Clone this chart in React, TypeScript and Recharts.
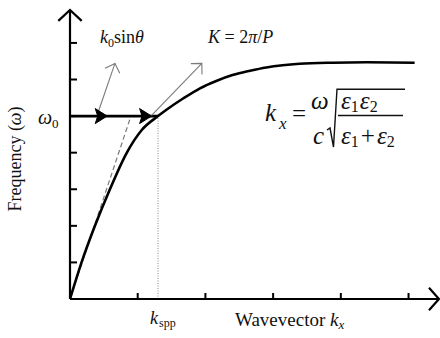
import {
  ComposedChart,
  Line,
  XAxis,
  YAxis,
  ReferenceLine,
  ReferenceDot,
  Customized,
} from "recharts";

// SPP dispersion curve (wavevector in tick units, frequency in tick units)
const KX = [0, 0.167, 0.364, 0.585, 0.836, 1.06, 1.3, 1.43, 1.67, 1.92, 2.16, 2.4, 2.66, 2.9, 3.14, 3.39, 3.88, 4.38, 5.09];
const OMEGA = [0, 0.98, 1.98, 2.98, 3.99, 4.62, 5.0, 5.18, 5.48, 5.76, 5.96, 6.12, 6.24, 6.33, 6.39, 6.43, 6.46, 6.47, 6.46];

const X_TICKS = [1, 2, 3, 4, 5];
const Y_TICKS = [1, 2, 3, 4, 5, 6, 7];
const X_MAX = 5.45;
const Y_MAX = 7.9;

const OMEGA_0 = 5;
const K_SPP = 1.3;
// light line (dashed) end point
const LIGHT_END = { x: 0.9, y: 5 };
// photon momentum arrows: k0 sin(theta) and grating K
const K0_ARROW = [{ x: 0.418, y: 5.12 }, { x: 0.664, y: 6.44 }];
const GRATING_ARROW = [{ x: 1.195, y: 5.0 }, { x: 1.947, y: 6.44 }];
// filled arrowheads on the omega_0 line
const HEAD_POSITIONS = [0.55, 1.205];

const data = KX.map((k, i) => ({ kx: k, omega: OMEGA[i] }));

const FONT = "'Liberation Serif', serif";
const GRAY = "#7a7a7a";
const X_TICK_LEN = 6;
const Y_TICK_LEN = 7;

function chevron(tx: number, ty: number, ux: number, uy: number, len: number, ang: number) {
  // ux,uy: unit direction of travel; arms point back
  const bx = -ux;
  const by = -uy;
  const c = Math.cos(ang);
  const s = Math.sin(ang);
  const ax = tx + len * (bx * c - by * s);
  const ay = ty + len * (bx * s + by * c);
  const cx = tx + len * (bx * c + by * s);
  const cy = ty + len * (-bx * s + by * c);
  return `M${ax},${ay} L${tx},${ty} L${cx},${cy}`;
}

function arrowShape(color: string, width: number, headLen: number) {
  return (p: any) => {
    const { x1, y1, x2, y2 } = p;
    const dx = x2 - x1;
    const dy = y2 - y1;
    const L = Math.hypot(dx, dy) || 1;
    return (
      <g>
        <line x1={x1} y1={y1} x2={x2} y2={y2} stroke={color} strokeWidth={width} />
        <path
          d={chevron(x2, y2, dx / L, dy / L, headLen, Math.PI / 4)}
          fill="none"
          stroke={color}
          strokeWidth={width}
        />
      </g>
    );
  };
}

const upHead = (p: any) => (
  <path d={chevron(p.cx, p.cy, 0, -1, 16, 0.82)} fill="none" stroke="#000" strokeWidth={2.2} />
);

const rightHead = (p: any) => (
  <path d={chevron(p.cx, p.cy, 1, 0, 15, 0.84)} fill="none" stroke="#000" strokeWidth={2.2} />
);

const solidHead = (p: any) => (
  <path
    d={`M${p.cx},${p.cy} L${p.cx - 12},${p.cy - 7.5} L${p.cx - 9.5},${p.cy} L${p.cx - 12},${p.cy + 7.5} Z`}
    fill="#000"
    stroke="#000"
    strokeWidth={1}
  />
);

// inward tick marks drawn in black (mirror axes, tickMargin 0: label anchor sits at the tick's inner end)
const xTick = (p: any) => (
  <line x1={p.x} y1={p.y} x2={p.x} y2={p.y + X_TICK_LEN} stroke="#000" strokeWidth={2} />
);
const yTick = (p: any) => (
  <line x1={p.x - Y_TICK_LEN} y1={p.y} x2={p.x} y2={p.y} stroke="#000" strokeWidth={2} />
);

function Labels() {
  const t = { fontFamily: FONT, fill: "#111" };
  return (
    <g>
      {/* y label */}
      <text {...t} fontSize={18} textAnchor="middle" transform="translate(21,159) rotate(-90)">
        Frequency (<tspan fontStyle="italic">ω</tspan>)
      </text>
      <text {...t} x={38} y={124} fontSize={20} fontStyle="italic">ω</text>
      <text {...t} x={52} y={128} fontSize={13}>0</text>

      {/* top labels */}
      <text {...t} x={100} y={43} fontSize={18}>
        <tspan fontStyle="italic">k</tspan>
        <tspan fontSize={12} dy={4}>0</tspan>
        <tspan dy={-4}>sin</tspan>
        <tspan fontStyle="italic">θ</tspan>
      </text>
      <text {...t} x={208} y={43} fontSize={18}>
        <tspan fontStyle="italic">K</tspan> = 2<tspan fontStyle="italic">π</tspan>/<tspan fontStyle="italic">P</tspan>
      </text>

      {/* bottom labels */}
      <text {...t} x={150} y={324} fontSize={18} fontStyle="italic">k</text>
      <text {...t} x={159} y={327} fontSize={12}>spp</text>
      <text {...t} x={235} y={326} fontSize={19}>
        Wavevector <tspan fontStyle="italic">k</tspan>
        <tspan fontSize={13} fontStyle="italic" dy={3}>x</tspan>
      </text>

      {/* dispersion relation */}
      <text {...t} x={265} y={121} fontSize={25} fontStyle="italic">k</text>
      <text {...t} x={279} y={129} fontSize={17} fontStyle="italic">x</text>
      <text {...t} x={292} y={122} fontSize={25}>=</text>
      <text {...t} x={311} y={109} fontSize={25} fontStyle="italic">ω</text>
      <text {...t} x={313} y={144} fontSize={25} fontStyle="italic">c</text>
      <path d="M327,130 L330,128 L333.5,147 L337,89.3 L405,89.3" fill="none" stroke="#111" strokeWidth={1.4} />
      <line x1={338} y1={115.5} x2={403} y2={115.5} stroke="#111" strokeWidth={1.3} />
      <text {...t} x={341} y={109} fontSize={25}>
        <tspan fontStyle="italic">ε</tspan>
        <tspan fontSize={16} dy={3}>1</tspan>
        <tspan fontStyle="italic" dy={-3} dx={1}>ε</tspan>
        <tspan fontSize={16} dy={3}>2</tspan>
      </text>
      <text {...t} x={341} y={144} fontSize={25}>
        <tspan fontStyle="italic">ε</tspan>
        <tspan fontSize={16} dy={3}>1</tspan>
        <tspan dy={-3} dx={2}>+</tspan>
        <tspan fontStyle="italic" dx={2}>ε</tspan>
        <tspan fontSize={16} dy={3}>2</tspan>
      </text>
    </g>
  );
}

export default function App() {
  return (
    <div style={{ position: "absolute", left: 0, top: 0, background: "#fff" }}>
      <ComposedChart
        width={440}
        height={338}
        data={data}
        margin={{ top: 10, right: 1, bottom: 39, left: 70 }}
      >
        <XAxis
          type="number"
          dataKey="kx"
          domain={[0, X_MAX]}
          ticks={X_TICKS}
          allowDataOverflow
          mirror
          tick={xTick}
          tickSize={X_TICK_LEN}
          tickMargin={0}
          stroke="#000"
          axisLine={{ stroke: "#000", strokeWidth: 2.2 }}
          tickLine={false}
        />
        <YAxis
          type="number"
          domain={[0, Y_MAX]}
          ticks={Y_TICKS}
          allowDataOverflow
          mirror
          tick={yTick}
          tickSize={Y_TICK_LEN}
          tickMargin={0}
          stroke="#000"
          axisLine={{ stroke: "#000", strokeWidth: 2.2 }}
          tickLine={false}
        />
        <ReferenceLine
          segment={[{ x: K_SPP, y: 0 }, { x: K_SPP, y: OMEGA_0 }]}
          stroke="#888"
          strokeWidth={1}
          strokeDasharray="1 1.5"
        />
        <ReferenceLine
          segment={[{ x: 0, y: 0 }, LIGHT_END]}
          stroke={GRAY}
          strokeWidth={1.2}
          strokeDasharray="5 3"
        />
        <Line
          type="monotone"
          dataKey="omega"
          stroke="#000"
          strokeWidth={2.6}
          dot={false}
          isAnimationActive={false}
        />
        <ReferenceLine
          segment={[{ x: 0, y: OMEGA_0 }, { x: K_SPP, y: OMEGA_0 }]}
          stroke="#000"
          strokeWidth={2.6}
        />
        <ReferenceLine segment={K0_ARROW} shape={arrowShape(GRAY, 1.1, 11)} />
        <ReferenceLine segment={GRATING_ARROW} shape={arrowShape(GRAY, 1.1, 11)} />
        {HEAD_POSITIONS.map((x) => (
          <ReferenceDot key={x} x={x} y={OMEGA_0} shape={solidHead} />
        ))}
        <ReferenceDot x={0} y={Y_MAX} shape={upHead} />
        <ReferenceDot x={X_MAX} y={0} shape={rightHead} />
        <Customized component={Labels} />
      </ComposedChart>
    </div>
  );
}
